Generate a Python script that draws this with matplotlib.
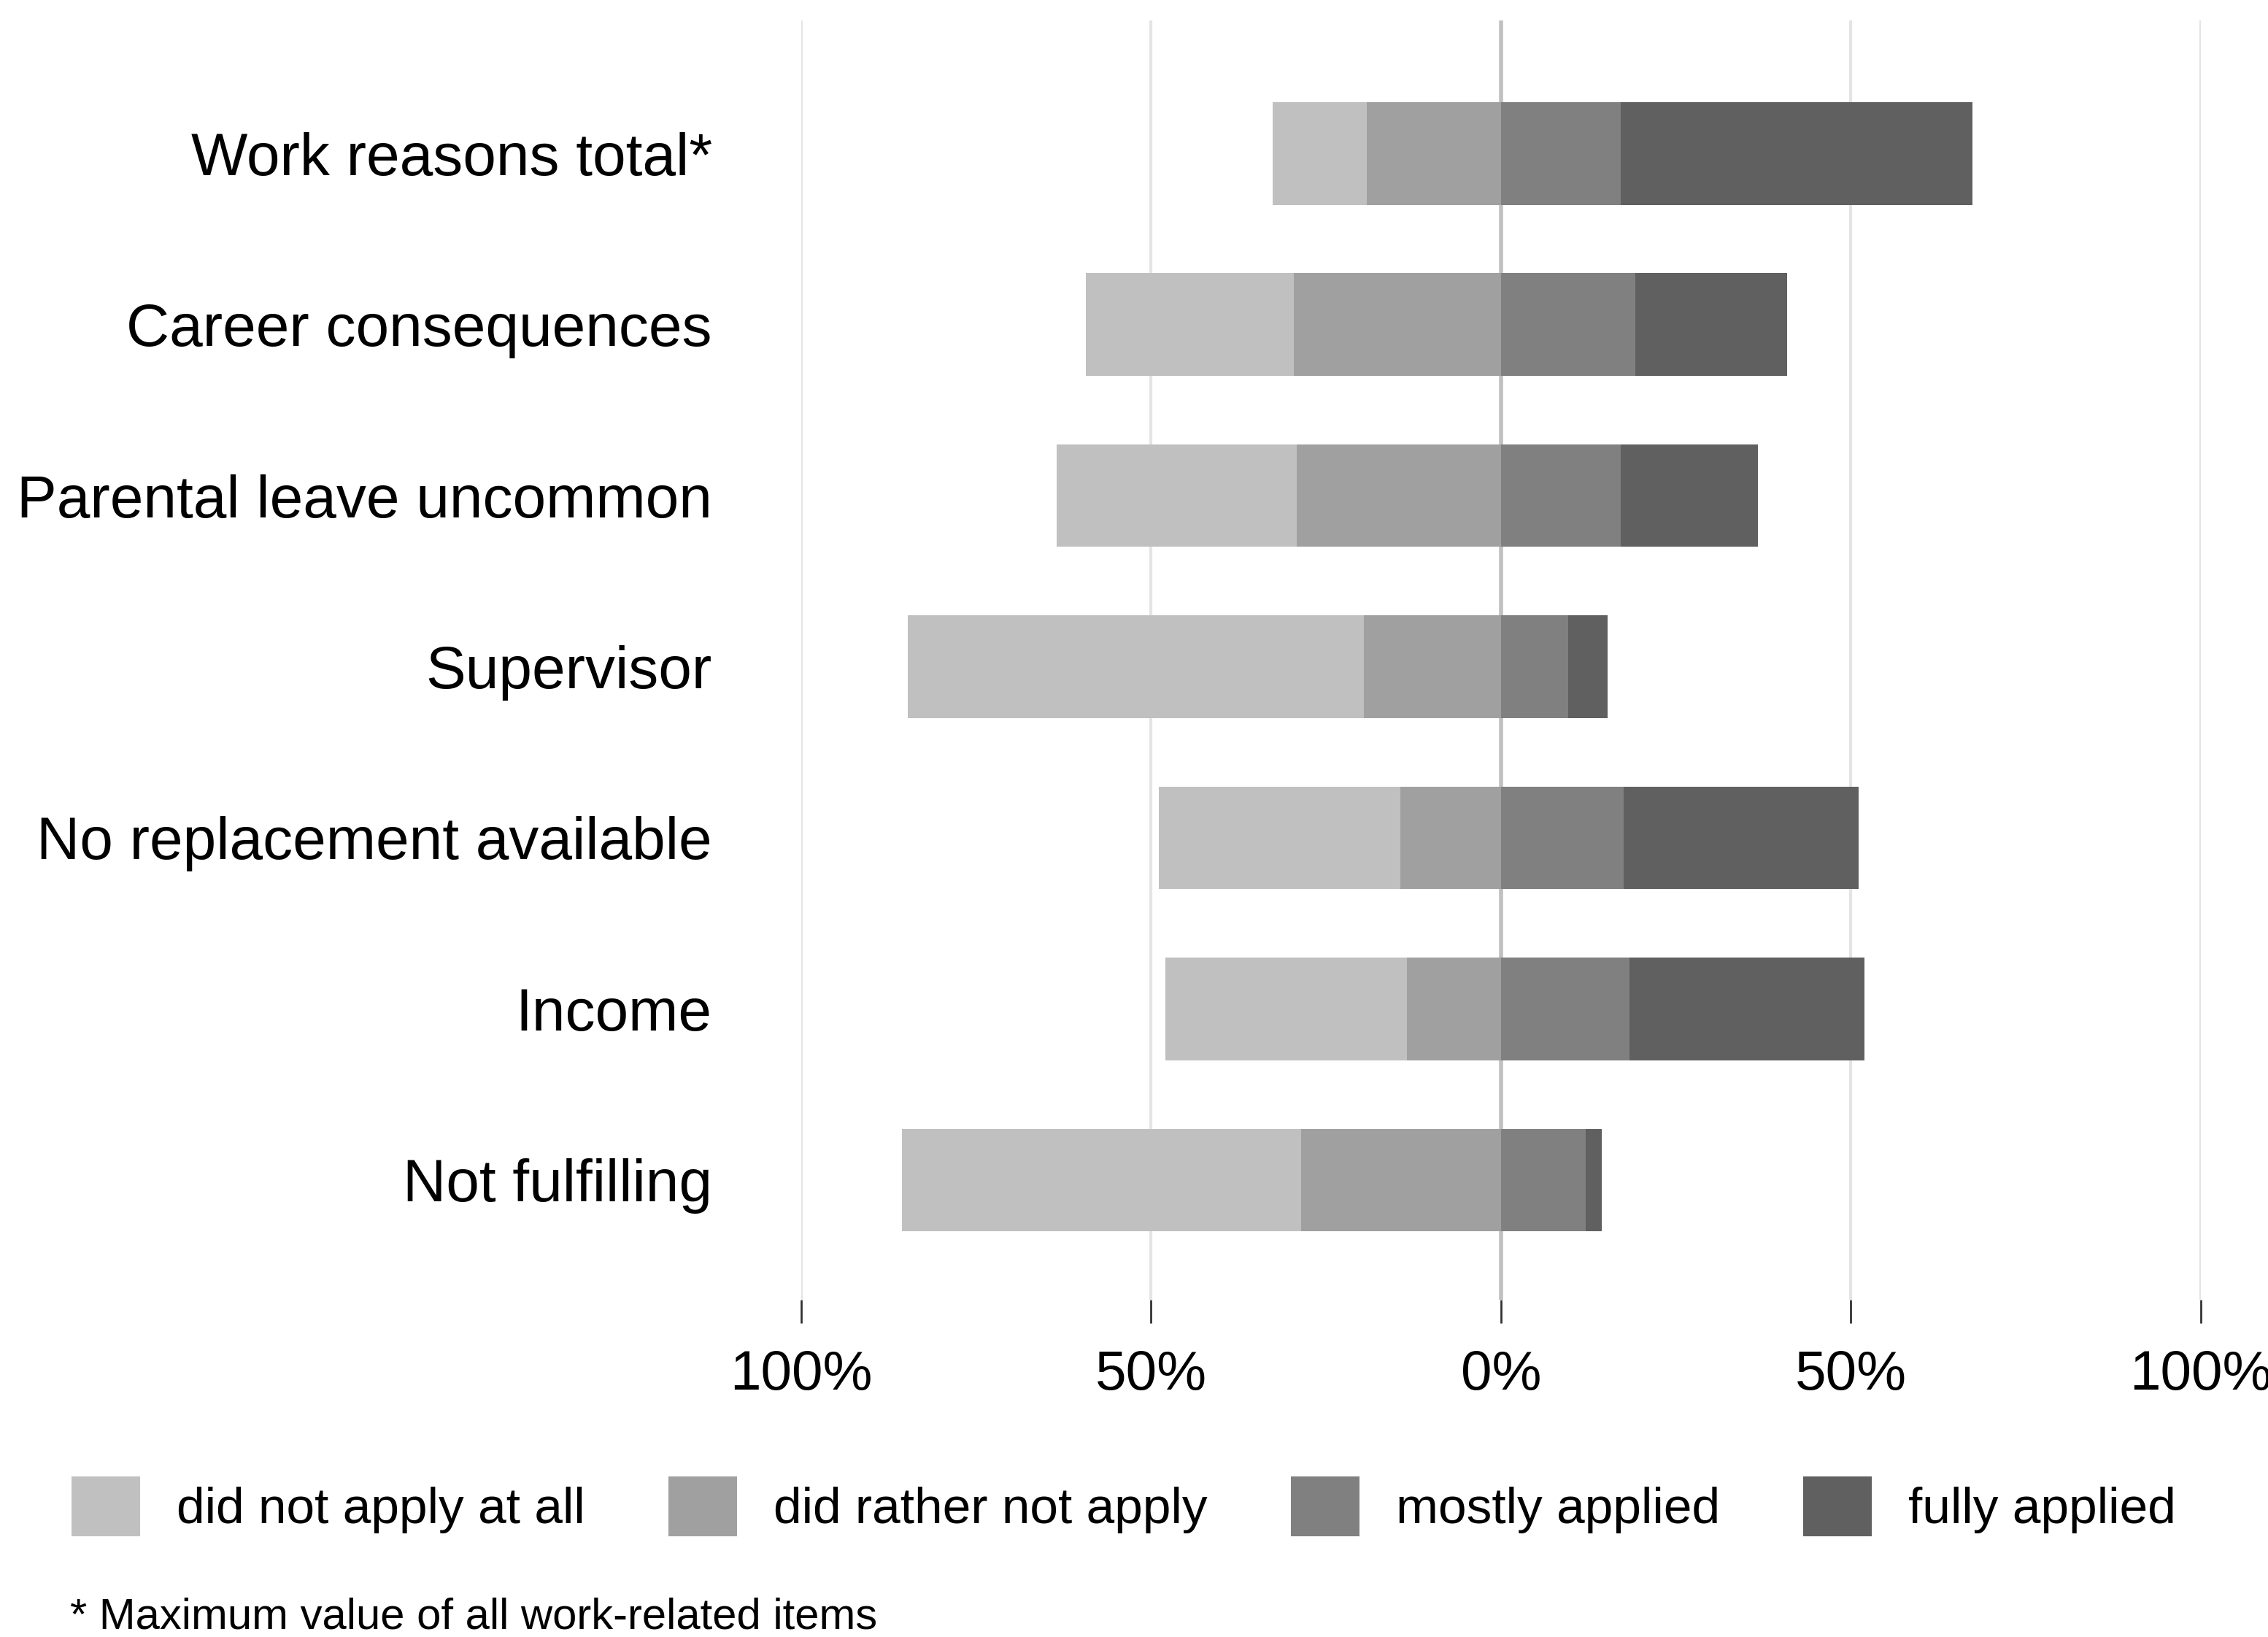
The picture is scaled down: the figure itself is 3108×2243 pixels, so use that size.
import numpy as np
import matplotlib.pyplot as plt

# values (percent)
items = ['Work reasons total*', 'Career consequences', 'Parental leave uncommon',
         'Supervisor', 'No replacement available', 'Income', 'Not fulfilling']
not_at_all = [13.4, 29.7, 34.3, 65.2, 34.5, 34.6, 57.0]
rather_not = [19.2, 29.6, 29.2, 19.6, 14.4, 13.4, 28.6]
mostly = [17.1, 19.2, 17.1, 9.6, 17.5, 18.4, 12.1]
fully = [50.3, 21.7, 19.6, 5.6, 33.6, 33.6, 2.3]

labels = ['did not apply at all', 'did rather not apply', 'mostly applied', 'fully applied']
colors = ['#c0c0c0', '#a0a0a0', '#808080', '#606060']

plt.rcParams['font.family'] = ['Liberation Sans', 'DejaVu Sans']

fig = plt.figure(figsize=(31.08, 22.43), dpi=100)
ax = fig.add_axes([0.3533, 0.206, 0.617, 0.7815])

y = np.arange(len(items))
h = 0.6
na = np.array(not_at_all)
rn = np.array(rather_not)
mo = np.array(mostly)
fu = np.array(fully)

# negative side: "not apply" answers, positive side: "applied" answers
b1 = ax.barh(y, -na, left=-rn, height=h, color=colors[0], zorder=3)
b2 = ax.barh(y, -rn, left=0, height=h, color=colors[1], zorder=3)
b3 = ax.barh(y, mo, left=0, height=h, color=colors[2], zorder=3)
b4 = ax.barh(y, fu, left=mo, height=h, color=colors[3], zorder=3)

ax.set_xlim(-100, 100)
ax.set_ylim(6.70, -0.777)
ax.set_xticks([-100, -50, 0, 50, 100])
ax.set_xticklabels(['100%', '50%', '0%', '50%', '100%'], fontsize=55)
ax.set_yticks(y)
ax.set_yticklabels(items, fontsize=59)
ax.tick_params(axis='y', length=0, pad=88)
ax.tick_params(axis='x', length=23, width=2, color='#333333', pad=26)

for x in [-100, -50, 50, 100]:
    ax.axvline(x, color='#e4e4e4', lw=3, zorder=1)
ax.axvline(0, color='#c0c0c0', lw=4, zorder=2)

for s in ax.spines.values():
    s.set_visible(False)

fig.legend([b1, b2, b3, b4], labels, loc='center left', bbox_to_anchor=(0.0315, 0.08),
           ncol=4, frameon=False, fontsize=50, handlelength=1.35, handleheight=1.44,
           handletextpad=0.72, columnspacing=1.65, borderaxespad=0, borderpad=0)

fig.text(0.031, 0.012, '* Maximum value of all work-related items', fontsize=43,
         va='center', ha='left')

fig.savefig('out.png', dpi=100)
